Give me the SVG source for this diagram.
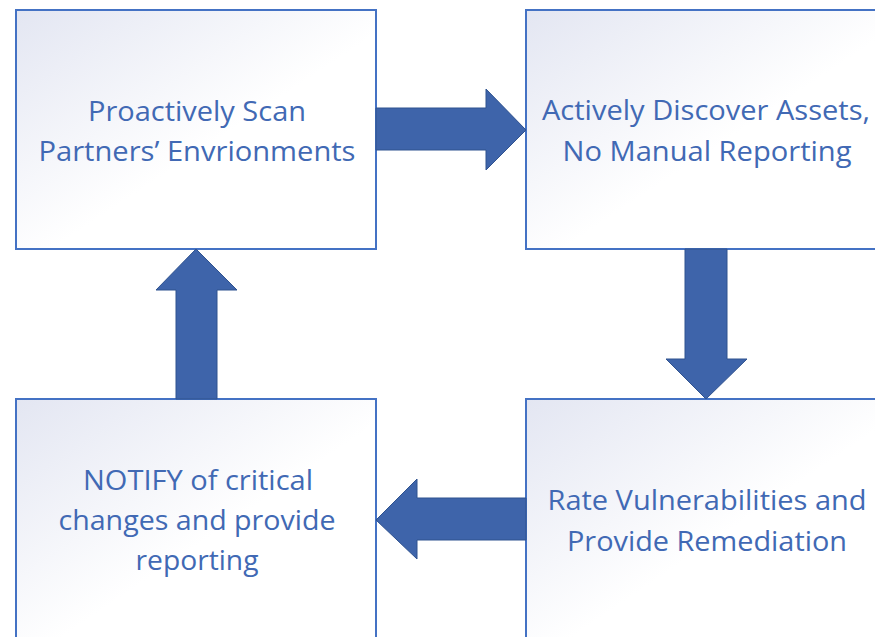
<svg xmlns="http://www.w3.org/2000/svg" width="875" height="637" viewBox="0 0 875 637">
<style>
.box{stroke:#4472C4;stroke-width:2;fill:url(#g)}
.arr{fill:#3E64AA;stroke:#2F528F;stroke-width:1}
.t{font-family:"Open Sans","Liberation Sans",sans-serif;font-size:28px;fill:#4169B4;text-anchor:middle}
</style>
<defs>
<linearGradient id="g" x1="0" y1="0" x2="1" y2="1">
<stop offset="0" stop-color="#E3E6F2"/>
<stop offset="0.55" stop-color="#FFFFFF"/>
<stop offset="1" stop-color="#FFFFFF"/>
</linearGradient>
</defs>
<rect width="875" height="637" fill="#FFFFFF"/>
<g id="node1">
<rect class="box" x="16" y="10" width="360" height="239"/>
<text class="t" x="197" y="121" textLength="218" lengthAdjust="spacingAndGlyphs">Proactively Scan</text>
<text class="t" x="197" y="161" textLength="317" lengthAdjust="spacingAndGlyphs">Partners’ Envrionments</text>
</g>
<g id="node2">
<rect class="box" x="526" y="10" width="360" height="239"/>
<text class="t" x="706" y="120" textLength="328" lengthAdjust="spacingAndGlyphs">Actively Discover Assets,</text>
<text class="t" x="707" y="161" textLength="289" lengthAdjust="spacingAndGlyphs">No Manual Reporting</text>
</g>
<g id="node3">
<rect class="box" x="16" y="399" width="360" height="245"/>
<text class="t" x="198" y="490" textLength="230" lengthAdjust="spacingAndGlyphs">NOTIFY of critical</text>
<text class="t" x="197" y="530" textLength="277" lengthAdjust="spacingAndGlyphs">changes and provide</text>
<text class="t" x="197" y="570" textLength="123" lengthAdjust="spacingAndGlyphs">reporting</text>
</g>
<g id="node4">
<rect class="box" x="526" y="399" width="360" height="245"/>
<text class="t" x="707" y="510" textLength="319" lengthAdjust="spacingAndGlyphs">Rate Vulnerabilities and</text>
<text class="t" x="707" y="551" textLength="280" lengthAdjust="spacingAndGlyphs">Provide Remediation</text>
</g>
<g id="connectors">
<polygon class="arr" points="376,108 486,108 486,89 526,130 486,170 486,150 376,150"/>
<polygon class="arr" points="685,249 727,249 727,359 747,359 706,399 666,359 685,359"/>
<polygon class="arr" points="526,498 417,498 417,479 376,520 417,559 417,540 526,540"/>
<polygon class="arr" points="176,399 176,290 156,290 196,249 237,290 217,290 217,399"/>
</g>
</svg>
